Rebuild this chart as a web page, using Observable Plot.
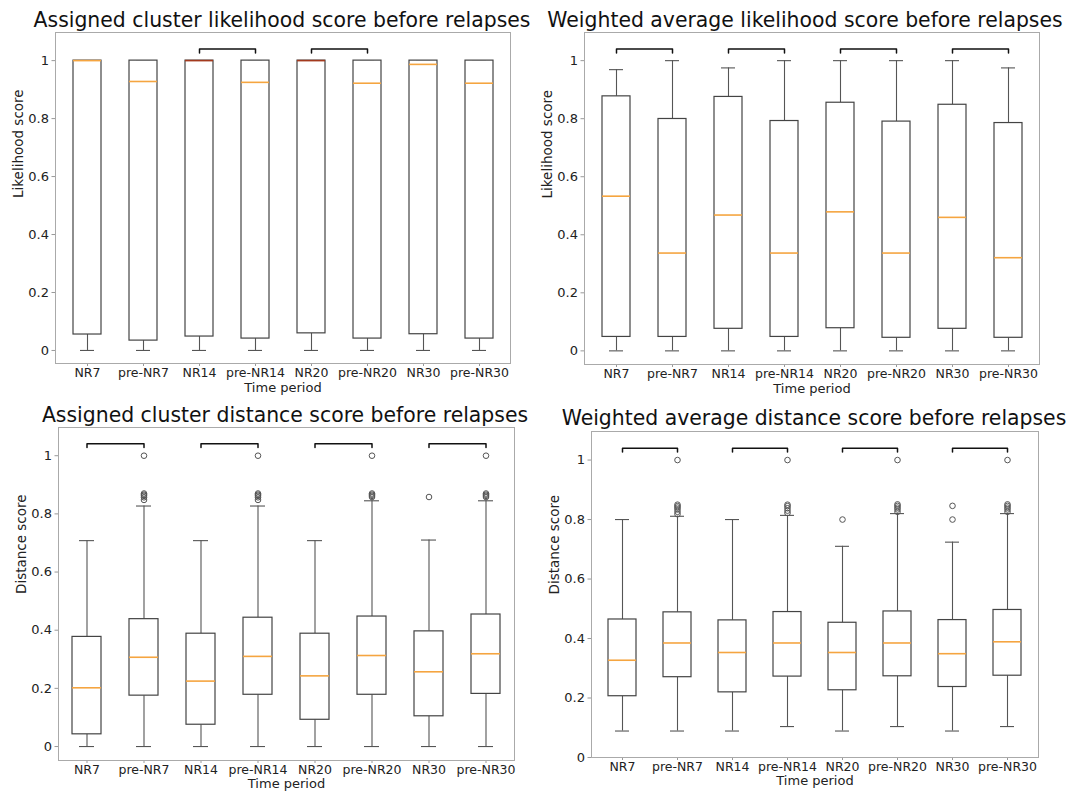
<!DOCTYPE html>
<html><head><meta charset="utf-8">
<script src="https://cdn.jsdelivr.net/npm/d3@7"></script>
<script src="https://cdn.jsdelivr.net/npm/@observablehq/plot@0.6"></script>
<style>
body{margin:0;background:#fff;font-family:"DejaVu Sans",sans-serif;}
#root{position:relative;width:1073px;height:794px;overflow:hidden;background:#fff;}
.title{position:absolute;font-size:20.4px;white-space:nowrap;transform:translate(-50%,-50%);color:#111;line-height:1;}
.panel{position:absolute;}
</style></head><body><div id="root"></div>
<script>
// ---------- shared ----------
const categories = ["NR7","pre-NR7","NR14","pre-NR14","NR20","pre-NR20","NR30","pre-NR30"];
const yTicks = [0,0.2,0.4,0.6,0.8,1];
const yTickLabels = ["0","0.2","0.4","0.6","0.8","1"];
const xLabel = "Time period";

// ---------- Panel A: Assigned cluster likelihood ----------
const aTitle = "Assigned cluster likelihood score before relapses";
const aYLabel = "Likelihood score";
const aLow  = [0,0,0,0,0,0,0,0];
const aQ1   = [0.055,0.034,0.048,0.041,0.059,0.041,0.056,0.041];
const aMed  = [1.0,0.928,1.0,0.925,1.0,0.922,0.987,0.922];
const aQ3   = [1,1,1,1,1,1,1,1];
const aHigh = [1,1,1,1,1,1,1,1];
const aOutliers = [];
const aBrackets = [["NR14","pre-NR14"],["NR20","pre-NR20"]];
const aBracketLevels = [1.026,1.04];
const aDomain = [-0.045,1.097];

// ---------- Panel B: Weighted average likelihood ----------
const bTitle = "Weighted average likelihood score before relapses";
const bYLabel = "Likelihood score";
const bLow  = [0,0,0,0,0,0,0,0];
const bQ1   = [0.048,0.048,0.076,0.048,0.078,0.045,0.076,0.045];
const bMed  = [0.533,0.337,0.468,0.337,0.479,0.337,0.460,0.321];
const bQ3   = [0.877,0.799,0.875,0.792,0.855,0.790,0.848,0.785];
const bHigh = [0.969,1,0.975,1,1,1,1,0.975];
const bOutliers = [];
const bBrackets = [["NR7","pre-NR7"],["NR14","pre-NR14"],["NR20","pre-NR20"],["NR30","pre-NR30"]];
const bBracketLevels = [1.026,1.04];
const bDomain = [-0.047,1.097];

// ---------- Panel C: Assigned cluster distance ----------
const cTitle = "Assigned cluster distance score before relapses";
const cYLabel = "Distance score";
const cLow  = [0,0,0,0,0,0,0,0];
const cQ1   = [0.042,0.175,0.075,0.178,0.092,0.178,0.104,0.181];
const cMed  = [0.202,0.307,0.225,0.310,0.243,0.313,0.257,0.319];
const cQ3   = [0.377,0.438,0.388,0.443,0.388,0.447,0.396,0.454];
const cHigh = [0.708,0.827,0.708,0.827,0.708,0.845,0.710,0.845];
const cOutliers = [
  ["pre-NR7",0.848],["pre-NR7",0.857],["pre-NR7",0.862],["pre-NR7",0.866],["pre-NR7",0.870],["pre-NR7",1.0],
  ["pre-NR14",0.848],["pre-NR14",0.857],["pre-NR14",0.862],["pre-NR14",0.866],["pre-NR14",0.870],["pre-NR14",1.0],
  ["pre-NR20",0.858],["pre-NR20",0.862],["pre-NR20",0.866],["pre-NR20",0.870],["pre-NR20",1.0],
  ["NR30",0.858],
  ["pre-NR30",0.858],["pre-NR30",0.862],["pre-NR30",0.866],["pre-NR30",0.870],["pre-NR30",1.0]
];
const cBrackets = [["NR7","pre-NR7"],["NR14","pre-NR14"],["NR20","pre-NR20"],["NR30","pre-NR30"]];
const cBracketLevels = [1.028,1.041];
const cDomain = [-0.048,1.097];

// ---------- Panel D: Weighted average distance ----------
const dTitle = "Weighted average distance score before relapses";
const dYLabel = "Distance score";
const dLow  = [0.089,0.089,0.089,0.104,0.089,0.104,0.089,0.104];
const dQ1   = [0.206,0.270,0.219,0.272,0.226,0.273,0.237,0.275];
const dMed  = [0.327,0.385,0.353,0.385,0.353,0.385,0.349,0.389];
const dQ3   = [0.464,0.488,0.461,0.489,0.453,0.491,0.462,0.496];
const dHigh = [0.800,0.811,0.800,0.814,0.710,0.820,0.724,0.820];
const dOutliers = [
  ["pre-NR7",0.818],["pre-NR7",0.826],["pre-NR7",0.834],["pre-NR7",0.840],["pre-NR7",0.845],["pre-NR7",0.850],["pre-NR7",1.0],
  ["pre-NR14",0.822],["pre-NR14",0.830],["pre-NR14",0.838],["pre-NR14",0.845],["pre-NR14",0.850],["pre-NR14",1.0],
  ["NR20",0.800],
  ["pre-NR20",0.826],["pre-NR20",0.834],["pre-NR20",0.840],["pre-NR20",0.846],["pre-NR20",0.851],["pre-NR20",1.0],
  ["NR30",0.800],["NR30",0.846],
  ["pre-NR30",0.826],["pre-NR30",0.834],["pre-NR30",0.840],["pre-NR30",0.846],["pre-NR30",0.851],["pre-NR30",1.0]
];
const dBrackets = [["NR7","pre-NR7"],["NR14","pre-NR14"],["NR20","pre-NR20"],["NR30","pre-NR30"]];
const dBracketLevels = [1.027,1.040];
const dDomain = [0,1.096];

// ---------- styles / layout ----------
const ORANGE = "#f5a540";
const DARKRED = "#a33a1e";
const layout = {
  A: {left:0,   top:30,  width:536, height:365, ml:55, mr:26, mt:2, mb:32, tx:282, ty:20,  labDy:28, medDark:["NR14","NR20"]},
  B: {left:533, top:30,  width:540, height:366, ml:51, mr:34, mt:2, mb:32, tx:805, ty:20,  labDy:28, medDark:[]},
  C: {left:0,   top:425, width:536, height:367, ml:58, mr:22, mt:2, mb:32, tx:285, ty:415, labDy:27.5, medDark:[]},
  D: {left:533, top:429, width:540, height:360, ml:58, mr:35, mt:2, mb:32, tx:814, ty:418, labDy:27.5, medDark:[]}
};

const root = document.getElementById("root");

function panel(L, title, yLabel, low, q1, med, q3, high, outliers, brackets, levels, domain) {
  const rows = categories.map((c,i)=>({cat:c, lo:low[i], q1:q1[i], med:med[i], q3:q3[i], hi:high[i]}));
  const outs = outliers.map(([cat,v])=>({cat, v}));
  const br = brackets.flatMap(([a,b],k)=>[
    {cat:a, y:levels[0], k},{cat:a, y:levels[1], k},{cat:b, y:levels[1], k},{cat:b, y:levels[0], k}
  ]);
  const chart = Plot.plot({
    width:L.width, height:L.height,
    marginLeft:L.ml, marginRight:L.mr, marginTop:L.mt, marginBottom:L.mb,
    style:{background:"transparent", overflow:"visible", fontFamily:"DejaVu Sans, sans-serif", fontSize:"13px", color:"#222"},
    x:{type:"band", domain:categories, paddingInner:0.5, paddingOuter:0.25, label:null},
    y:{domain, label:null},
    marks:[
      Plot.axisX({tickSize:3, tickPadding:1.5, stroke:"#999", label:null, fontSize:12.5}),
      Plot.axisY({ticks:yTicks, tickFormat:d=>yTickLabels[yTicks.indexOf(d)], tickSize:3.5, tickPadding:3, stroke:"#999", label:null, fontSize:13}),
      Plot.frame({stroke:"#aaa"}),
      Plot.ruleX(rows,{x:"cat", y1:"lo", y2:"q1", stroke:"#555", strokeWidth:1.1}),
      Plot.ruleX(rows,{x:"cat", y1:"q3", y2:"hi", stroke:"#555", strokeWidth:1.1}),
      Plot.tickY(rows,{x:"cat", y:"lo", inset:7, stroke:"#555", strokeWidth:1.1}),
      Plot.tickY(rows,{x:"cat", y:"hi", inset:7, stroke:"#555", strokeWidth:1.1}),
      Plot.barY(rows,{x:"cat", y1:"q1", y2:"q3", fill:"white", stroke:"#444", strokeWidth:1.2}),
      Plot.tickY(rows,{x:"cat", y:"med", stroke:d=>L.medDark.includes(d.cat) && d.med===1 ? DARKRED : ORANGE, strokeWidth:1.6}),
      Plot.dot(outs,{x:"cat", y:"v", r:2.8, stroke:"#555", fill:"none", strokeWidth:1}),
      Plot.line(br,{x:"cat", y:"y", z:"k", stroke:"#111", strokeWidth:1.5}),
      Plot.text([yLabel],{text:d=>d, frameAnchor:"left", dx:-37, rotate:-90, fontSize:13.5, fill:"#222"}),
      Plot.text([xLabel],{text:d=>d, frameAnchor:"bottom", dy:L.labDy, fontSize:13, fill:"#222"})
    ]
  });
  const wrap = document.createElement("div");
  wrap.className = "panel";
  wrap.style.left = L.left + "px";
  wrap.style.top = L.top + "px";
  wrap.appendChild(chart);
  root.appendChild(wrap);
  const t = document.createElement("div");
  t.className = "title";
  t.textContent = title;
  t.style.left = L.tx + "px";
  t.style.top = L.ty + "px";
  root.appendChild(t);
}

panel(layout.A, aTitle, aYLabel, aLow, aQ1, aMed, aQ3, aHigh, aOutliers, aBrackets, aBracketLevels, aDomain);
panel(layout.B, bTitle, bYLabel, bLow, bQ1, bMed, bQ3, bHigh, bOutliers, bBrackets, bBracketLevels, bDomain);
panel(layout.C, cTitle, cYLabel, cLow, cQ1, cMed, cQ3, cHigh, cOutliers, cBrackets, cBracketLevels, cDomain);
panel(layout.D, dTitle, dYLabel, dLow, dQ1, dMed, dQ3, dHigh, dOutliers, dBrackets, dBracketLevels, dDomain);
</script>
</body></html>
